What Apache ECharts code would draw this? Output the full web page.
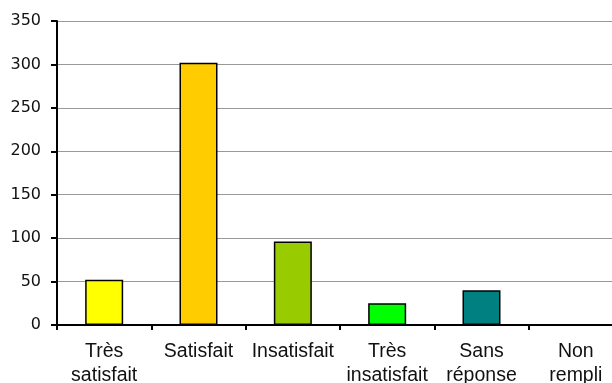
<!DOCTYPE html>
<html><head><meta charset="utf-8">
<script src="https://cdn.jsdelivr.net/npm/echarts@6/dist/echarts.min.js"></script>
<style>html,body{margin:0;padding:0;background:#fff}#c{width:612px;height:383px}</style>
</head><body><div id="c"></div>
<script>
const categories = ["Très\nsatisfait", "Satisfait", "Insatisfait", "Très\ninsatisfait", "Sans\nréponse", "Non\nrempli"];
const values = [52, 302, 96, 25, 40, 0];
const barColors = ["#FFFF00", "#FFCC00", "#99CC00", "#00FF00", "#008080", "#3366FF"];
const yTicks = [0, 350, 50];

const chart = echarts.init(document.getElementById('c'), null, {renderer: 'canvas'});
chart.setOption({
  animation: false,
  backgroundColor: '#fff',
  grid: {left: 57, top: 21, width: 566, bottom: 58, containLabel: false, outerBoundsMode: 'none'},
  xAxis: {
    type: 'category',
    data: categories,
    axisLine: {lineStyle: {color: '#000', width: 2}},
    axisTick: {show: true, length: 5, lineStyle: {color: '#000', width: 2}, alignWithLabel: false},
    axisLabel: {color: '#111', fontFamily: 'Liberation Sans', fontSize: 19.5, lineHeight: 24, margin: 15, interval: 0}
  },
  yAxis: {
    type: 'value',
    min: yTicks[0], max: yTicks[1], interval: yTicks[2],
    axisLine: {show: true, lineStyle: {color: '#000', width: 2}},
    axisTick: {show: true, length: 6, lineStyle: {color: '#000', width: 2}},
    axisLabel: {color: '#111', fontFamily: 'DejaVu Sans', fontSize: 16, margin: 16},
    splitLine: {lineStyle: {color: '#999', width: 1}}
  },
  series: [{
    type: 'bar',
    data: values.map((v, i) => ({value: v, itemStyle: {color: barColors[i]}})),
    barWidth: 38,
    itemStyle: {borderColor: '#000', borderWidth: 1.5}
  }]
});
</script></body></html>
